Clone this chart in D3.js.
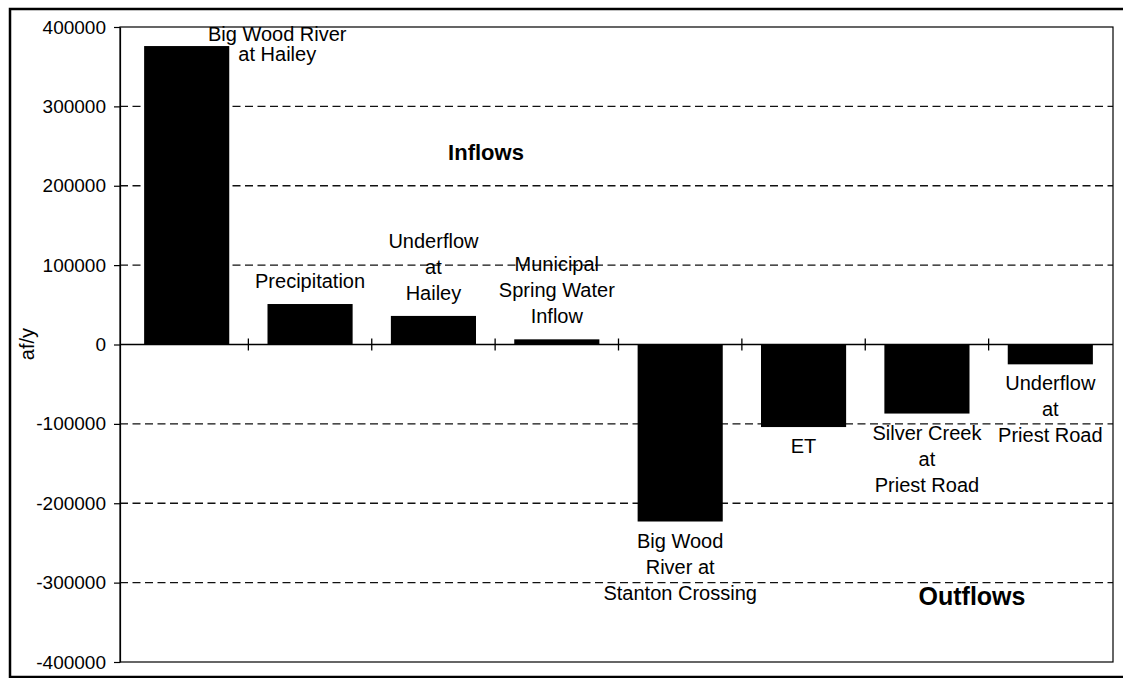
<!DOCTYPE html>
<html>
<head>
<meta charset="utf-8">
<script src="https://cdn.jsdelivr.net/npm/d3@7"></script>
<style>
  html, body { margin: 0; padding: 0; background: #fff; }
  svg { display: block; }
  text { font-family: "Liberation Sans", Arial, Helvetica, sans-serif; fill: #000; }
</style>
</head>
<body>
<svg id="chart" width="1123" height="678"></svg>
<script>
// ---- data ----
const categories = [
  "Big Wood River at Hailey",
  "Precipitation",
  "Underflow at Hailey",
  "Municipal Spring Water Inflow",
  "Big Wood River at Stanton Crossing",
  "ET",
  "Silver Creek at Priest Road",
  "Underflow at Priest Road"
];
const labelLines = [
  ["Big Wood River", "at Hailey"],
  ["Precipitation"],
  ["Underflow", "at", "Hailey"],
  ["Municipal", "Spring Water", "Inflow"],
  ["Big Wood", "River at", "Stanton Crossing"],
  ["ET"],
  ["Silver Creek", "at", "Priest Road"],
  ["Underflow", "at", "Priest Road"]
];
const values = [376000, 51000, 36000, 6500, -223000, -104000, -87000, -25000];
const yTicks = [400000, 300000, 200000, 100000, 0, -100000, -200000, -300000, -400000];
const gridValues = [300000, 200000, 100000, -100000, -200000, -300000];
const yTitle = "af/y";
const groupLabels = ["Inflows", "Outflows"];

// ---- layout ----
const svg = d3.select("#chart");
const plot = { left: 120, right: 1113, top: 27, bottom: 662 };

const y = d3.scaleLinear().domain([-400000, 400000]).range([plot.bottom, plot.top]);
const x = d3.scaleBand().domain(categories).range([125, 1112]).paddingInner(0.31).paddingOuter(0.155);

// outer frame
svg.append("path")
  .attr("d", "M1123,9 L10,9 L10,677 L1123,677")
  .attr("fill", "none").attr("stroke", "#000").attr("stroke-width", 2.5);

// gridlines
svg.append("g").selectAll("line").data(gridValues).join("line")
  .attr("x1", plot.left).attr("x2", plot.right)
  .attr("y1", d => y(d)).attr("y2", d => y(d))
  .attr("stroke", "#111").attr("stroke-width", 1.3)
  .attr("stroke-dasharray", "8 4.5");

// plot area frame
svg.append("rect")
  .attr("x", plot.left).attr("y", plot.top)
  .attr("width", plot.right - plot.left).attr("height", plot.bottom - plot.top)
  .attr("fill", "none").attr("stroke", "#000").attr("stroke-width", 1.2);

// bars
svg.append("g").selectAll("rect").data(values).join("rect")
  .attr("x", (d, i) => x(categories[i]))
  .attr("width", x.bandwidth())
  .attr("y", d => y(Math.max(0, d)))
  .attr("height", d => Math.abs(y(d) - y(0)))
  .attr("fill", "#000");

// zero (category) axis line
svg.append("line")
  .attr("x1", plot.left).attr("x2", plot.right)
  .attr("y1", y(0)).attr("y2", y(0))
  .attr("stroke", "#000").attr("stroke-width", 1.4);

// category boundary ticks crossing the axis
const boundaries = categories.slice(1).map(c => x(c) - x.step() * x.paddingInner() / 2);
svg.append("g").selectAll("line").data(boundaries).join("line")
  .attr("x1", d => d).attr("x2", d => d)
  .attr("y1", y(0) - 6).attr("y2", y(0) + 6)
  .attr("stroke", "#000").attr("stroke-width", 1.3);

// y axis
const yAxis = d3.axisLeft(y).tickValues(yTicks).tickSizeInner(6).tickSizeOuter(0).tickPadding(8)
  .tickFormat(d => String(d));
const gy = svg.append("g").attr("transform", `translate(${plot.left},0)`).call(yAxis);
gy.select(".domain").attr("stroke", "#000").attr("stroke-width", 1.2);
gy.selectAll(".tick line").attr("stroke", "#000").attr("stroke-width", 1.2);
gy.selectAll(".tick text").attr("font-size", 19).attr("fill", "#000")
  .attr("font-family", '"Liberation Sans", Arial, sans-serif');

// y title
svg.append("text")
  .attr("transform", `translate(34,344) rotate(-90)`)
  .attr("text-anchor", "middle")
  .attr("font-size", 20)
  .text(yTitle);

// category labels
const lineH = 26;
const lab = svg.append("g").attr("font-size", 20).attr("text-anchor", "middle");
values.forEach((v, i) => {
  const lines = labelLines[i];
  const cx = x(categories[i]) + x.bandwidth() / 2;
  let firstBase, step = lineH, lx = cx;
  if (v >= 0) {
    firstBase = y(v) - 16 - (lines.length - 1) * lineH;
    if (firstBase - 14 < plot.top) {
      // no room above: place beside the bar, near the top of the plot
      lx = cx + x.bandwidth() / 2 + 48;
      step = 20;
      firstBase = plot.top + 14;
    }
  } else {
    firstBase = y(v) + 26;
  }
  const t = lab.append("text").attr("x", lx).attr("y", firstBase);
  lines.forEach((s, k) => {
    t.append("tspan").attr("x", lx).attr("y", firstBase + k * step).text(s);
  });
});

// group annotations
svg.append("text").attr("x", 486).attr("y", y(232000))
  .attr("text-anchor", "middle").attr("font-size", 22).attr("font-weight", "bold")
  .text(groupLabels[0]);
svg.append("text").attr("x", 972).attr("y", y(-328000))
  .attr("text-anchor", "middle").attr("font-size", 25).attr("font-weight", "bold")
  .text(groupLabels[1]);
</script>
</body>
</html>
